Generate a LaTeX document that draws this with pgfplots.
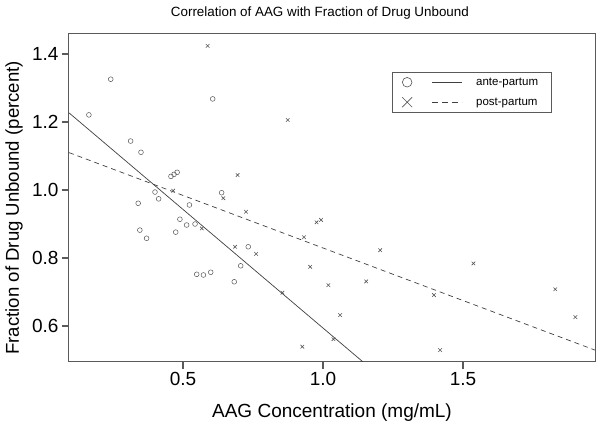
\documentclass[border=0pt]{standalone}
\usepackage{pgfplots}
\pgfplotsset{compat=1.18}
\usepackage{pgfplotstable}
\usepackage{fontspec}
\setmainfont{Liberation Sans}
\definecolor{boxgray}{HTML}{5A5A5A}
\definecolor{markgray}{HTML}{555555}
\definecolor{linegray}{HTML}{404040}

\pgfplotstableread{
x y
0.164 1.221
0.242 1.326
0.313 1.144
0.350 1.111
0.340 0.961
0.346 0.882
0.370 0.858
0.400 0.994
0.413 0.974
0.457 1.040
0.468 1.046
0.479 1.052
0.474 0.876
0.489 0.914
0.513 0.897
0.523 0.956
0.543 0.900
0.549 0.752
0.573 0.750
0.599 0.758
0.606 1.268
0.638 0.992
0.683 0.730
0.706 0.777
0.733 0.833
}\ante

\pgfplotstableread{
x y
0.465 0.998
0.567 0.887
0.588 1.424
0.644 0.976
0.686 0.833
0.695 1.044
0.725 0.936
0.761 0.812
0.855 0.698
0.874 1.206
0.926 0.539
0.932 0.861
0.954 0.774
0.977 0.905
0.993 0.912
1.019 0.720
1.037 0.561
1.061 0.632
1.154 0.731
1.204 0.823
1.396 0.691
1.418 0.529
1.537 0.784
1.829 0.708
1.901 0.626
}\post

\begin{document}
\begin{tikzpicture}
\path[draw=none] (-69pt,-71pt) rectangle (531pt,362pt);
\begin{axis}[
  at={(0pt,0pt)}, anchor=south west,
  scale only axis, width=526pt, height=328pt,
  xmin=0.093, xmax=1.971, ymin=0.494, ymax=1.459,
  axis line style={draw=boxgray, line width=1pt},
  xtick={0.5,1.0,1.5}, ytick={0.6,0.8,1.0,1.2,1.4},
  tick pos=left, tick align=outside, major tick length=7pt,
  tick style={draw=boxgray, line width=1.2pt},
  /pgf/number format/assume math mode=true,
  xticklabel style={/pgf/number format/fixed, /pgf/number format/fixed zerofill, /pgf/number format/precision=1,
     font=\fontsize{19}{22}\selectfont},
  yticklabel style={/pgf/number format/fixed, /pgf/number format/fixed zerofill, /pgf/number format/precision=1,
     font=\fontsize{19}{22}\selectfont},
  xlabel={AAG Concentration (mg/mL)},
  ylabel={Fraction of Drug Unbound (percent)},
  xlabel style={font=\fontsize{19}{22}\selectfont, at={(axis description cs:0.5,-0.1555)}, anchor=center},
  ylabel style={font=\fontsize{18.6}{22}\selectfont, at={(axis description cs:-0.1046,0.47)}, anchor=center},
  title={Correlation of AAG with Fraction of Drug Unbound},
  title style={font=\fontsize{13.4}{15}\selectfont, at={(axis description cs:0.477,1.046)}, anchor=center},
  legend style={at={(axis description cs:0.614,0.884)}, anchor=north west, draw=boxgray,
     inner sep=0pt, font=\fontsize{11.5}{13}\selectfont, cells={anchor=west, inner sep=0pt}},
]
\addlegendimage{legend image code/.code={
  \path[draw=none, fill=none] (-15pt,-10pt) rectangle (67pt,10pt);
  \draw[markgray, line width=0.6pt] (0pt,0pt) circle (4.8pt);
  \draw[linegray, line width=0.6pt] (25pt,0pt) -- (55pt,0pt);
}}
\addlegendentry{ante-partum\hspace*{11pt}}
\addlegendimage{legend image code/.code={
  \path[draw=none, fill=none] (-15pt,-10pt) rectangle (67pt,10pt);
  \draw[markgray, line width=0.6pt] (-5pt,-5pt) -- (5pt,5pt) (-5pt,5pt) -- (5pt,-5pt);
  \draw[linegray, line width=0.6pt, dash pattern=on 6pt off 4pt] (25pt,0pt) -- (55pt,0pt);
}}
\addlegendentry{post-partum\hspace*{11pt}}

\addplot[forget plot, only marks, mark=o, mark size=2.4pt, markgray, mark options={line width=0.5pt}] table[x=x,y=y] {\ante};
\addplot[forget plot, only marks, mark=x, mark size=2.5pt, markgray, mark options={line width=0.6pt}] table[x=x,y=y] {\post};
\addplot[forget plot, linegray, line width=0.7pt] coordinates {(0.093,1.227) (1.143,0.494)};
\addplot[forget plot, linegray, line width=0.7pt, dash pattern=on 5pt off 4pt] coordinates {(0.093,1.110) (1.971,0.529)};
\end{axis}
\end{tikzpicture}
\end{document}
